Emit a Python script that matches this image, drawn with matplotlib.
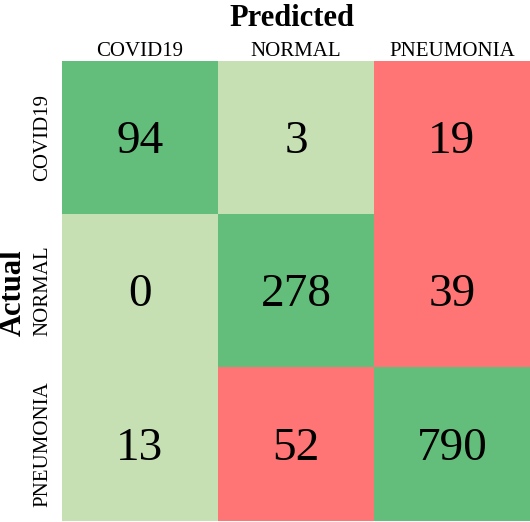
import numpy as np
import matplotlib.pyplot as plt
import matplotlib.transforms as mtransforms
from matplotlib.colors import ListedColormap

labels = ["COVID19", "NORMAL", "PNEUMONIA"]
counts = np.array([[94, 3, 19],
                   [0, 278, 39],
                   [13, 52, 790]])
# colour class per cell: 0 = green, 1 = light green, 2 = red
shade = np.array([[0, 1, 2],
                  [1, 0, 2],
                  [1, 2, 0]])

plt.rcParams['font.family'] = ['Liberation Serif', 'DejaVu Serif']

fig = plt.figure(figsize=(5.30, 5.22), dpi=100)
ax = fig.add_axes([62 / 530, 1 / 522, 468 / 530, 460 / 522])

cmap = ListedColormap(["#63be7b", "#c6e0b4", "#ff7575"])
ax.imshow(shade, cmap=cmap, vmin=0, vmax=2, aspect='auto')

# numbers sit a little below the cell centre
shift = mtransforms.offset_copy(ax.transData, fig=fig, x=0, y=-4, units='dots')
for i in range(3):
    for j in range(3):
        ax.text(j, i, str(counts[i, j]), ha='center', va='center',
                fontsize=34, transform=shift)

ax.set_xticks(range(3))
ax.set_xticklabels(labels, fontsize=15)
ax.set_yticks(range(3))
ax.set_yticklabels(labels, fontsize=15, rotation=90, va='center')
ax.xaxis.tick_top()
ax.tick_params(axis='x', length=0, pad=0)
ax.tick_params(axis='y', length=0, pad=7)
for s in ax.spines.values():
    s.set_visible(False)

fig.text(292 / 530, 1 - 19 / 522, "Predicted", ha='center', va='center',
         fontsize=22, fontweight='bold')
fig.text(13 / 530, 1 - 293 / 522, "Actual", ha='center', va='center',
         fontsize=22, fontweight='bold', rotation=90)

fig.savefig("out.png", dpi=100)
